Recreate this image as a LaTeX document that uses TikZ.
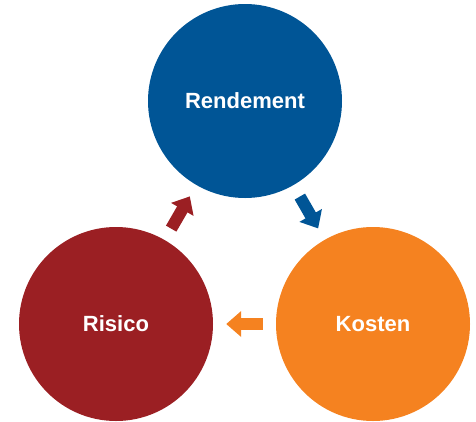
\documentclass[tikz,border=0pt]{standalone}
\usepackage{fontspec}
\setmainfont{Liberation Sans}
\usetikzlibrary{arrows.meta}
\definecolor{cblue}{HTML}{005596}
\definecolor{cred}{HTML}{9B1F23}
\definecolor{corange}{HTML}{F58220}
\tikzset{
  bubble/.style={circle, minimum size=194pt, inner sep=0pt, text=white, font=\fontsize{22}{25}\selectfont\bfseries},
  flow/.style={line width=12pt, shorten <=13pt, shorten >=13pt, -{Triangle[length=15pt,width=25pt]}}
}
\begin{document}
\begin{tikzpicture}[x=1pt,y=-1pt]
\useasboundingbox (0,0) rectangle (476,421);
\node[bubble, fill=cblue] (ren) at (245,101) {Rendement};
\node[bubble, fill=cred] (ris) at (116,324) {Risico};
\node[bubble, fill=corange] (kos) at (373,324) {Kosten};
\draw[flow, draw=cblue, fill=cblue] (ren) -- (kos);
\draw[flow, draw=corange, fill=corange] (kos) -- (ris);
\draw[flow, draw=cred, fill=cred] (ris) -- (ren);
\end{tikzpicture}
\end{document}
